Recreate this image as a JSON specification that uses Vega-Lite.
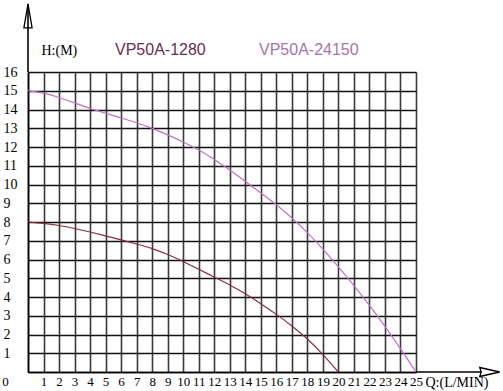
{
  "$schema": "https://vega.github.io/schema/vega-lite/v6.json",
  "width": 388,
  "height": 300,
  "autosize": {"type": "none"},
  "padding": {"left": 28, "top": 72, "right": 87, "bottom": 19},
  "background": "white",
  "config": {"view": {"stroke": null}, "font": "Liberation Serif"},
  "datasets": {
    "curves": [
      {"x": 0, "y": 15, "model": "VP50A-24150"},
      {"x": 1, "y": 14.9, "model": "VP50A-24150"},
      {"x": 2, "y": 14.65, "model": "VP50A-24150"},
      {"x": 3, "y": 14.35, "model": "VP50A-24150"},
      {"x": 4, "y": 14.05, "model": "VP50A-24150"},
      {"x": 5, "y": 13.8, "model": "VP50A-24150"},
      {"x": 6, "y": 13.55, "model": "VP50A-24150"},
      {"x": 7, "y": 13.3, "model": "VP50A-24150"},
      {"x": 8, "y": 13.0, "model": "VP50A-24150"},
      {"x": 9, "y": 12.65, "model": "VP50A-24150"},
      {"x": 10, "y": 12.28, "model": "VP50A-24150"},
      {"x": 11, "y": 11.85, "model": "VP50A-24150"},
      {"x": 12, "y": 11.35, "model": "VP50A-24150"},
      {"x": 13, "y": 10.78, "model": "VP50A-24150"},
      {"x": 14, "y": 10.17, "model": "VP50A-24150"},
      {"x": 15, "y": 9.55, "model": "VP50A-24150"},
      {"x": 16, "y": 8.93, "model": "VP50A-24150"},
      {"x": 17, "y": 8.23, "model": "VP50A-24150"},
      {"x": 18, "y": 7.45, "model": "VP50A-24150"},
      {"x": 19, "y": 6.57, "model": "VP50A-24150"},
      {"x": 20, "y": 5.62, "model": "VP50A-24150"},
      {"x": 21, "y": 4.62, "model": "VP50A-24150"},
      {"x": 22, "y": 3.57, "model": "VP50A-24150"},
      {"x": 23, "y": 2.45, "model": "VP50A-24150"},
      {"x": 24, "y": 1.25, "model": "VP50A-24150"},
      {"x": 25, "y": 0, "model": "VP50A-24150"},
      {"x": 0, "y": 8, "model": "VP50A-1280"},
      {"x": 1, "y": 7.93, "model": "VP50A-1280"},
      {"x": 2, "y": 7.82, "model": "VP50A-1280"},
      {"x": 3, "y": 7.66, "model": "VP50A-1280"},
      {"x": 4, "y": 7.47, "model": "VP50A-1280"},
      {"x": 5, "y": 7.26, "model": "VP50A-1280"},
      {"x": 6, "y": 7.05, "model": "VP50A-1280"},
      {"x": 7, "y": 6.83, "model": "VP50A-1280"},
      {"x": 8, "y": 6.6, "model": "VP50A-1280"},
      {"x": 9, "y": 6.27, "model": "VP50A-1280"},
      {"x": 10, "y": 5.9, "model": "VP50A-1280"},
      {"x": 11, "y": 5.48, "model": "VP50A-1280"},
      {"x": 12, "y": 5.07, "model": "VP50A-1280"},
      {"x": 13, "y": 4.65, "model": "VP50A-1280"},
      {"x": 14, "y": 4.18, "model": "VP50A-1280"},
      {"x": 15, "y": 3.65, "model": "VP50A-1280"},
      {"x": 16, "y": 3.08, "model": "VP50A-1280"},
      {"x": 17, "y": 2.47, "model": "VP50A-1280"},
      {"x": 18, "y": 1.78, "model": "VP50A-1280"},
      {"x": 19, "y": 0.95, "model": "VP50A-1280"},
      {"x": 20, "y": 0, "model": "VP50A-1280"}
    ],
    "axisrules": [
      {"x": 0, "x2": 0, "y": 16, "y2": 19.63},
      {"x": 25, "x2": 30.2, "y": 0, "y2": 0}
    ],
    "arrowup": [{"x": 0, "y": 18.99}],
    "arrowright": [{"x": 29.75, "y": 0}]
  },
  "encoding": {
    "x": {
      "field": "x", "type": "quantitative",
      "scale": {"domain": [0, 25], "nice": false, "zero": false},
      "axis": {
        "values": [0,1,2,3,4,5,6,7,8,9,10,11,12,13,14,15,16,17,18,19,20,21,22,23,24,25],
        "grid": true, "gridColor": "#3a3a3a", "gridWidth": 1.6, "gridOpacity": 1,
        "ticks": false, "tickSize": 0,
        "domain": true, "domainColor": "#000000", "domainWidth": 1.6,
        "labelFont": "Liberation Serif", "labelFontSize": 13, "labelColor": "#000000",
        "labelPadding": 3, "labelBaseline": "top",
        "labelOffset": {"condition": {"test": "datum.value == 0", "value": -23}, "value": 0},
        "labelOverlap": false, "labelFlush": false,
        "title": "Q:(L/MIN)", "titleFont": "Liberation Serif", "titleFontSize": 14,
        "titleFontWeight": "normal", "titleColor": "#000000",
        "titleX": 397, "titleY": 10, "titleAlign": "left", "titleBaseline": "middle", "titleAnchor": null
      }
    },
    "y": {
      "field": "y", "type": "quantitative",
      "scale": {"domain": [0, 16], "nice": false, "zero": false},
      "axis": {
        "values": [0,1,2,3,4,5,6,7,8,9,10,11,12,13,14,15,16],
        "labelExpr": "datum.value == 0 ? '' : datum.label",
        "grid": true, "gridColor": "#111111", "gridWidth": 1.6, "gridOpacity": 1,
        "ticks": false, "tickSize": 0,
        "domain": true, "domainColor": "#000000", "domainWidth": 1.6,
        "labelFont": "Liberation Serif", "labelFontSize": 14, "labelColor": "#000000",
        "labelAlign": "left", "labelPadding": 25, "labelBaseline": "middle",
        "labelOverlap": false, "labelFlush": false,
        "title": "H:(M)", "titleFont": "Liberation Serif", "titleFontSize": 14,
        "titleFontWeight": "normal", "titleColor": "#000000", "titleAngle": 0,
        "titleX": 13, "titleY": -22, "titleAlign": "left", "titleBaseline": "middle", "titleAnchor": null
      }
    }
  },
  "layer": [
    {
      "data": {"name": "curves"},
      "mark": {"type": "line", "interpolate": "basis", "strokeWidth": 1.2, "clip": false},
      "encoding": {
        "color": {
          "field": "model", "type": "nominal",
          "scale": {"domain": ["VP50A-1280", "VP50A-24150"], "range": ["#8a2d3e", "#c070c8"]},
          "legend": {
            "orient": "none", "legendX": 71, "legendY": -30, "direction": "horizontal",
            "title": null, "symbolSize": 0, "symbolOpacity": 0, "symbolStrokeWidth": 0,
            "labelOffset": 0, "columnPadding": 37,
            "labelFont": "Liberation Sans", "labelFontSize": 16,
            "labelColor": {"expr": "datum.label == 'VP50A-1280' ? '#66304f' : '#a474aa'"}
          }
        }
      }
    },
    {
      "data": {"name": "axisrules"},
      "mark": {"type": "rule", "color": "#000000", "strokeWidth": 1.6, "clip": false},
      "encoding": {
        "x2": {"field": "x2"},
        "y2": {"field": "y2"}
      }
    },
    {
      "data": {"name": "arrowup"},
      "mark": {"type": "point", "shape": "M0,-1L0.34,1L-0.34,1Z", "size": 576, "filled": false, "fill": "white", "fillOpacity": 0, "stroke": "#000000", "strokeWidth": 1.3, "opacity": 1, "clip": false},
      "encoding": {}
    },
    {
      "data": {"name": "arrowright"},
      "mark": {"type": "point", "shape": "M1,0L-1,-0.45L-0.85,0L-1,0.45Z", "size": 400, "filled": false, "fill": "white", "fillOpacity": 1, "stroke": "#000000", "strokeWidth": 1.3, "opacity": 1, "clip": false},
      "encoding": {}
    }
  ]
}
